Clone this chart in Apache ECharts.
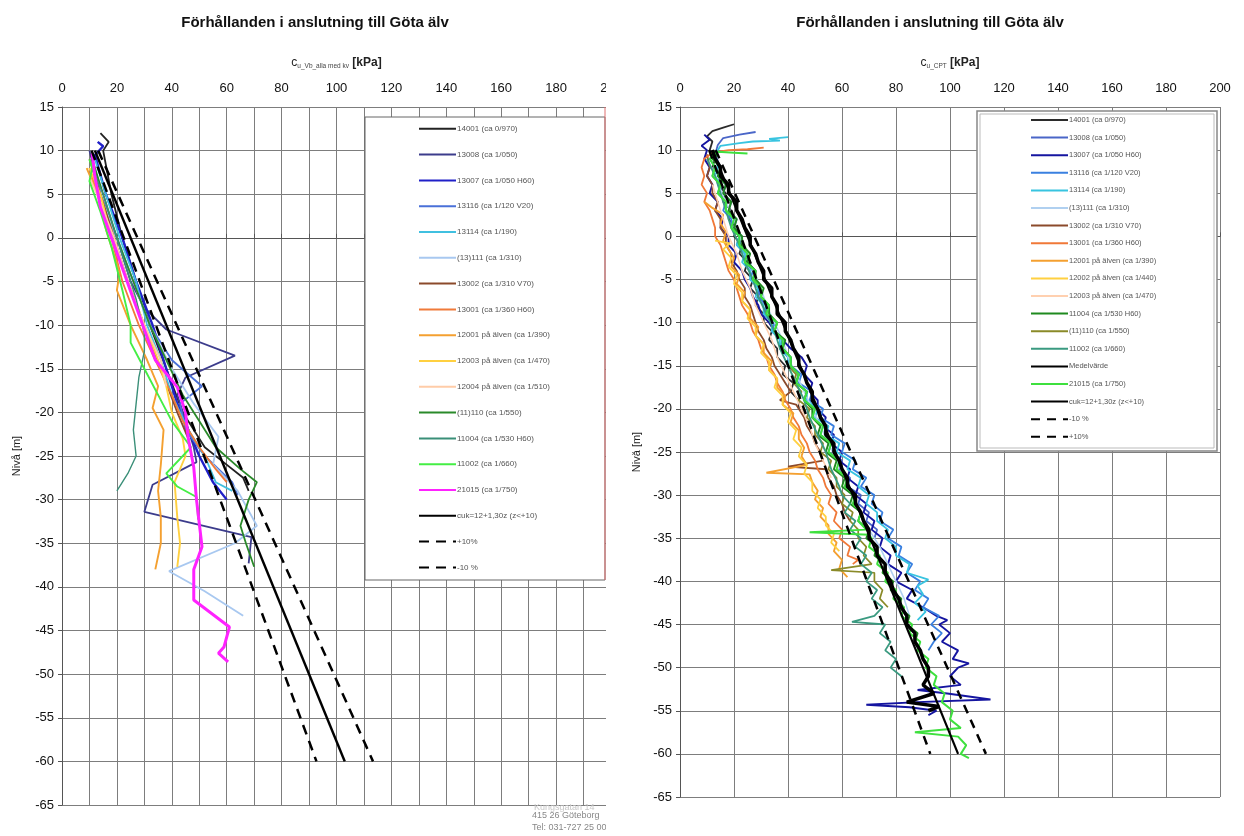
<!DOCTYPE html>
<html><head><meta charset="utf-8">
<script src="https://cdn.jsdelivr.net/npm/echarts@6/dist/echarts.min.js"></script>
<style>html,body{margin:0;padding:0;background:#fff}#c{width:1244px;height:836px}</style>
</head><body><div id="c"></div><script>
// ---------- texts ----------
const TITLE = 'Förhållanden i anslutning till Göta älv';
const Y_NAME = 'Nivå [m]';
const FOOTER = ['Kungsgatan 14', '415 26 Göteborg', 'Tel: 031-727 25 00'];

// ---------- axes ----------
const Y_MIN = -65, Y_MAX = 15, Y_STEP = 5;
const X_MIN = 0, X_MAX = 200, X_LABEL_STEP = 20;

// ---------- reference lines [cu, level] ----------
const REF_CUK = [[12, 10], [103, -60]];
const REF_PLUS10 = [[13.2, 10], [113.3, -60]];
const REF_MINUS10 = [[10.8, 10], [92.7, -60]];

// ---------- LEFT chart (vingborr) [cu, level] ----------
const L_14001 = [[14,12],[17,11],[15,10],[18,5],[22,0],[27,-5],[32,-10],[38,-15],[44,-20],[52,-24],[58,-25.5],[66,-27.5],[68,-29]];
const L_13008 = [[10,10],[14,5],[20,0],[25,-5],[30,-8],[38,-10.5],[63,-13.5],[45,-16],[42,-18],[45,-21],[48,-24],[49,-25.7],[33,-28.3],[30,-31.4],[69,-34.3],[68,-37.3]];
const L_13007 = [[13,11],[15,10.5],[12,9.5],[16,5],[22,0],[27,-5],[33,-10],[38,-15],[42,-19],[46,-22],[50,-25],[55,-28],[60,-30]];
const L_13116 = [[11,9],[14,5],[20,0],[26,-5],[32,-10],[40,-14],[51,-17],[43,-19],[45,-22],[52,-25],[62,-28],[64,-29.5]];
const L_13114 = [[12,9],[16,5],[21,0],[27,-5],[31,-10],[36,-14],[40,-18],[46,-22],[52,-25],[56,-28],[62,-29]];
const L_13111 = [[11,8],[15,4],[20,0],[26,-5],[32,-10],[40,-15],[48,-19],[57,-22.8],[55,-26],[64,-29],[71,-33],[63,-35],[39,-38.2],[52,-40.5],[66,-43.3]];
const L_13002 = [[10,9],[14,5],[19,0],[24,-5],[30,-10],[36,-15],[42,-20],[46,-23]];
const L_13001 = [[10,8],[13,5],[18,0],[22,-5],[28,-10],[34,-14],[40,-18],[44,-21],[50,-24],[56,-26.5],[60,-28]];
const L_12001 = [[9,8],[13,5],[16,1],[21,-4],[20,-6],[25,-10],[31,-14],[35,-17],[33,-19.5],[37,-22],[36,-26],[35,-29],[36,-32],[36,-35],[34,-38]];
const L_12003 = [[10,8],[14,5],[18,0],[24,-5],[30,-10],[35,-14],[38,-17],[40,-20],[44,-23],[45,-25],[41,-28],[42,-32],[43,-35],[42,-37.7]];
const L_12004 = [[10,7],[14,4],[19,0],[24,-5],[30,-10],[36,-14],[38,-17]];
const L_11110 = [[11,9],[15,5],[20,0],[26,-5],[32,-10],[38,-14],[44,-18],[50,-21],[56,-24],[65,-26.5],[71,-28],[68,-30],[65,-33],[67,-35],[70,-37.7]];
const L_11004 = [[11,8],[15,5],[19,1],[23,-3],[27,-7],[30,-11],[30,-13],[28,-16],[27,-19],[26,-22],[27,-25],[24,-27],[20,-29]];
const L_11002 = [[10,9],[11,8],[10,6.5],[14,3],[18,-1],[22,-6],[25,-10],[25,-12],[30,-15],[35,-18],[40,-21],[47,-24],[38,-27],[42,-28.5],[49,-29.7],[49.6,-32.3]];
const L_21015 = [[11,9.7],[12,7],[14,3.5],[20,-1.7],[26,-7],[31,-11.4],[34,-14],[42,-17.1],[45,-20],[46,-23],[48,-26.3],[49,-30],[51,-35.4],[48,-38],[48,-41.5],[61,-44.6],[59,-46.9],[57,-47.6],[60.5,-48.6]];

// ---------- RIGHT chart (CPT) [cu, level] ----------
const R_14001 = [[20,13],[16,12.6],[12,12.2],[10,11.6],[12,11],[11,10],[13,9],[12,8],[15,7],[14,6],[17,5],[16,4],[19,3],[18,2],[21,1],[20,0],[23,-1],[22,-2],[25,-3],[24,-4],[27,-5],[26,-6],[29,-7],[28,-8],[31,-9],[31,-10],[34,-11],[33,-12],[36,-13],[36,-14],[39,-15],[38,-16],[42,-17],[41,-18],[44,-19],[44,-20]];
const R_13008 = [[28,12.1],[22,11.8],[16,11.4],[14,10.6],[13,9.5],[15,8],[14,7],[17,6],[16,5],[19,4],[18,3],[21,2],[20,1],[23,0],[22,-1],[25,-2],[25,-3],[28,-4],[27,-5],[30,-6],[29,-7],[32,-8],[32,-9],[35,-10],[34,-11],[38,-12],[37,-13],[40,-14],[40,-15],[44,-16],[43,-17],[47,-18],[46,-19],[50,-20],[49,-21],[53,-22],[52,-23],[56,-24],[55,-25],[60,-26],[59,-27],[63,-28],[62,-29],[67,-30],[66,-31],[70,-32],[69,-33],[73,-34],[72,-35]];
const R_13007 = [[9,11.8],[11,11.2],[8,10.5],[10,10],[9,9],[11,8],[10,7],[12,6],[11,5],[14,4],[13,3],[16,2],[15,1],[18,0],[18,-1],[21,-2],[20,-3],[23,-4],[24,-5],[26,-6],[27,-7],[29,-8],[30,-9],[33,-10],[35,-11],[38,-12],[41,-13],[45,-14],[47,-15],[46,-16],[49,-17],[48,-18],[51,-19],[51,-20],[54,-21],[53,-22],[57,-23],[56,-24],[60,-25],[59,-26],[63,-27],[62,-28],[66,-29],[65,-30],[69,-31],[68,-32],[72,-33],[71,-34],[75,-35],[74,-36],[78,-37],[77,-38],[82,-39],[80,-40],[86,-41],[84,-42],[90,-43],[95,-44],[99,-44.5],[96,-45],[100,-46],[97,-47],[103,-48],[101,-49],[107,-49.5],[103,-50],[100,-51],[104,-52],[88,-52.6],[99,-53],[115,-53.7],[88,-54],[69,-54.3],[85,-54.6],[95,-55],[92,-55.5]];
const R_13116 = [[11,9],[13,8],[12,7],[15,6],[14,5],[17,4],[16,3],[19,2],[19,1],[22,0],[21,-1],[24,-2],[24,-3],[27,-4],[26,-5],[29,-6],[29,-7],[32,-8],[31,-9],[35,-10],[34,-11],[38,-12],[37,-13],[41,-14],[41,-15],[45,-16],[44,-17],[49,-18],[48,-19],[53,-20],[52,-21],[57,-22],[56,-23],[61,-24],[60,-25],[65,-26],[64,-27],[69,-28],[67,-29],[72,-30],[71,-31],[75,-32],[74,-33],[79,-34],[77,-35],[82,-36],[81,-37],[86,-38],[84,-39],[89,-40],[87,-41],[92,-42],[90,-43],[96,-44],[93,-45],[97,-46],[94,-47],[92,-48]];
const R_13114 = [[40,11.5],[33,11.3],[37,11.1],[27,11],[22,10.8],[15,10.5],[13,9.5],[14,8],[13,7],[15,6],[15,5],[17,4],[17,3],[20,2],[19,1],[22,0],[21,-1],[24,-2],[23,-3],[26,-4],[26,-5],[29,-6],[28,-7],[31,-8],[31,-9],[34,-10],[34,-11],[37,-12],[37,-13],[40,-14],[40,-15],[44,-16],[43,-17],[47,-18],[47,-19],[51,-20],[50,-21],[55,-22],[54,-23],[59,-24],[58,-25],[63,-26],[62,-27],[67,-28],[66,-29],[70,-30],[69,-31],[73,-32],[73,-33],[77,-34],[76,-35],[80,-36],[80,-37],[85,-38],[84,-39],[92,-39.8],[88,-40.5],[90,-41.5],[87,-42.5],[91,-43.5],[88,-44.5]];
const R_13111 = [[12,8],[14,6],[17,4],[20,2],[22,0],[25,-2],[27,-4],[30,-6],[32,-8],[35,-10],[38,-12],[40,-14],[43,-16],[46,-18],[49,-20],[52,-22],[55,-24],[58,-26],[61,-28],[64,-30],[67,-32],[70,-34],[74,-36],[77,-38],[80,-40],[83,-42],[85,-44]];
const R_13002 = [[10,9.5],[11,8],[10,7],[12,6],[12,5],[14,4],[13,3],[15,2],[15,1],[17,0],[17,-1],[19,-2],[19,-3],[21,-4],[22,-5],[24,-6],[24,-7],[26,-8],[27,-9],[28,-10],[29,-11],[31,-12],[32,-13],[34,-14],[35,-15],[37,-16],[39,-17],[41,-18],[37,-19],[43,-19.5],[44,-20],[46,-21],[47,-22],[49,-23],[50,-24],[52,-25],[53,-26],[40,-26.7],[54,-27],[55,-28],[57,-29],[58,-30],[60,-31],[61,-32],[63,-33]];
const R_13001 = [[31,10.3],[25,10.1],[18,10],[12,9.7],[9,9],[8,8],[9,7],[8,6],[10,5],[9,4],[11,3],[12,2],[13,1],[13,0],[15,-1],[16,-2],[17,-3],[18,-4],[20,-5],[21,-6],[22,-7],[23,-8],[25,-9],[26,-10],[27,-11],[29,-12],[30,-13],[32,-14],[33,-15],[35,-16],[36,-17],[38,-18],[39,-19],[41,-20],[42,-21],[44,-22],[45,-23],[47,-24],[48,-25],[50,-26],[51,-27],[53,-28],[54,-29],[56,-30],[55,-31],[58,-32],[57,-33],[60,-34],[59,-35],[63,-36],[62,-37],[66,-37.5],[64,-38]];
const R_12001 = [[9,4],[12,3.3],[16,2.5],[15,1.5],[17,0.5],[16,-0.5],[18,-1.5],[20,-2.5],[19,-3.5],[22,-4.5],[21,-5.5],[24,-6.5],[23,-7.5],[26,-8.5],[26,-9.5],[29,-10.5],[28,-11.5],[31,-12.5],[31,-13.5],[34,-14.5],[33,-15.5],[36,-16.5],[36,-17.5],[39,-18.5],[38,-19.5],[42,-20.5],[41,-21.5],[44,-22.5],[44,-23.5],[46,-24.5],[45,-25.5],[47,-26.5],[32,-27.4],[48,-27.6],[49,-28.5],[51,-29.5],[50,-30.5],[53,-31.5],[52,-32.5],[55,-33.5],[55,-34.5],[58,-35.5],[57,-36.5],[60,-37.5],[59,-38.5],[62,-39.5]];
const R_12002 = [[13,-0.5],[18.5,-0.8],[16,-1.5],[19,-2.5],[18,-3.5],[21,-4.5],[20,-5.5],[23,-6.5],[23,-7.5],[26,-8.5],[25,-9.5],[28,-10.5],[28,-11.5],[31,-12.5],[30,-13.5],[33,-14.5],[33,-15.5],[36,-16.5],[35,-17.5],[38,-18.5],[38,-19.5],[41,-20.5],[40,-21.5],[43,-22.5],[42,-23.5],[45,-24.5],[44,-25.5],[47,-26.5],[46,-27.5],[49,-28.5],[49,-29.5],[52,-30.5],[51,-31.5],[54,-32.5],[54,-33.5],[57,-34.5],[56,-35.5],[59,-36.5]];
const R_12003 = [[12,6],[14,4],[16,2],[18,0],[21,-2],[23,-4],[26,-6],[28,-8],[31,-10],[34,-12],[36,-14],[39,-16],[42,-18],[45,-20],[48,-22],[50,-24],[53,-26],[56,-28]];
const R_11004 = [[12,10],[14,9.5],[12,9],[15,8],[14,7],[17,6],[16,5],[19,4],[18,3],[21,2],[20,1],[23,0],[23,-1],[26,-2],[25,-3],[28,-4],[28,-5],[31,-6],[30,-7],[33,-8],[33,-9],[36,-10],[35,-11],[39,-12],[38,-13],[41,-14],[41,-15],[44,-16],[43,-17],[47,-18],[46,-19],[49,-20],[49,-21],[52,-22],[51,-23],[55,-24],[54,-25],[58,-26],[57,-27],[61,-28],[60,-29],[64,-30],[63,-31],[67,-32],[66,-33],[70,-34],[69,-35],[73,-36],[72,-37],[76,-38],[75,-39],[79,-40],[78,-41],[82,-42],[81,-43],[85,-44],[84,-45],[88,-46],[87,-47]];
const R_11110 = [[40,-15],[43,-16],[42,-17],[45,-18],[44,-19],[48,-20],[47,-21],[50,-22],[50,-23],[53,-24],[52,-25],[56,-26],[55,-27],[58,-28],[58,-29],[61,-30],[60,-31],[64,-32],[63,-33],[66,-34],[66,-35],[69,-36],[68,-37],[71,-38],[56,-38.7],[72,-39],[72,-40],[75,-41],[74,-42],[77,-43]];
const R_11002 = [[10,9],[13,7],[15,5],[17,3],[19,1],[22,-1],[24,-3],[27,-5],[29,-7],[32,-9],[35,-11],[37,-13],[40,-15],[43,-17],[46,-19],[48,-21],[51,-23],[54,-25],[56,-27],[59,-29],[60,-30],[63,-31],[61,-32],[65,-33],[63,-34],[67,-35],[65,-36],[69,-37],[67,-38],[71,-39],[69,-40],[73,-41],[71,-42],[75,-43],[72,-44],[63.7,-44.7],[76,-45],[74,-46],[78,-47],[76,-48],[80,-49],[78,-50],[82,-51]];
const R_MEDEL = [[12,10],[13,9],[15,8],[15,7],[18,6],[18,5],[21,4],[21,3],[23,2],[24,1],[26,0],[26,-1],[28,-2],[29,-3],[31,-4],[31,-5],[34,-6],[34,-7],[36,-8],[36,-9],[39,-10],[39,-11],[41,-12],[42,-13],[44,-14],[44,-15],[46,-16],[47,-17],[49,-18],[49,-19],[51,-20],[52,-21],[54,-22],[54,-23],[57,-24],[57,-25],[59,-26],[60,-27],[62,-28],[62,-29],[65,-30],[65,-31],[67,-32],[68,-33],[70,-34],[70,-35],[73,-36],[73,-37],[76,-38],[76,-39],[78,-40],[79,-41],[81,-42],[82,-43],[84,-44],[84,-45],[87,-46],[87,-47],[89,-48],[90,-49],[92,-50],[92,-51],[90,-52],[94,-53],[84,-54],[96,-54.5],[92,-55]];
const R_21015 = [[25,9.6],[20,9.7],[14,9.8],[11,9],[13,8],[12,7],[15,6],[14,5],[17,4],[17,3],[20,2],[19,1],[22,0],[22,-1],[25,-2],[24,-3],[28,-4],[27,-5],[30,-6],[30,-7],[33,-8],[32,-9],[36,-10],[35,-11],[38,-12],[38,-13],[41,-14],[41,-15],[44,-16],[43,-17],[47,-18],[46,-19],[50,-20],[49,-21],[53,-22],[52,-23],[56,-24],[55,-25],[59,-26],[58,-27],[62,-28],[61,-29],[65,-30],[64,-31],[67,-32],[66,-33],[69,-34],[48,-34.3],[70,-34.6],[71,-35],[70,-36],[74,-37],[73,-38],[77,-39],[76,-40],[80,-41],[79,-42],[83,-43],[82,-44],[86,-45],[85,-46],[89,-47],[88,-48],[92,-49],[91,-50],[95,-51],[94,-52],[98,-53],[97,-54],[101,-55],[100,-56],[104,-57],[87,-57.5],[103,-58],[106,-59],[104,-60],[107,-60.5]];

// ---------- legend names ----------
const LEFT_NAMES = ['14001 (ca 0/970)','13008 (ca 1/050)','13007 (ca 1/050 H60)','13116 (ca 1/120 V20)','13114 (ca 1/190)','(13)111 (ca 1/310)','13002 (ca 1/310 V70)','13001 (ca 1/360 H60)','12001 på älven (ca 1/390)','12003 på älven (ca 1/470)','12004 på älven (ca 1/510)','(11)110 (ca 1/550)','11004 (ca 1/530 H60)','11002 (ca 1/660)','21015 (ca 1/750)','cuk=12+1,30z (z<+10)','+10%','-10 %'];
const RIGHT_NAMES = ['14001 (ca 0/970)','13008 (ca 1/050)','13007 (ca 1/050 H60)','13116 (ca 1/120 V20)','13114 (ca 1/190)','(13)111 (ca 1/310)','13002 (ca 1/310 V70)','13001 (ca 1/360 H60)','12001 på älven (ca 1/390)','12002 på älven (ca 1/440)','12003 på älven (ca 1/470)','11004 (ca 1/530 H60)','(11)110 (ca 1/550)','11002 (ca 1/660)','Medelvärde','21015 (ca 1/750)','cuk=12+1,30z (z<+10)','-10 %','+10%'];

// ---------- build ----------
const LEFT_DATA = [L_14001,L_13008,L_13007,L_13116,L_13114,L_13111,L_13002,L_13001,L_12001,L_12003,L_12004,L_11110,L_11004,L_11002,L_21015,REF_CUK,REF_PLUS10,REF_MINUS10];
const LEFT_STYLE = [['#222',1.8],['#3c3c8c',1.8],['#2020c8',2.4],['#4a70d8',1.8],['#40c0e0',1.8],['#a8c8f0',1.8],['#8b4a2b',1.8],['#f07a3a',1.8],['#f4a030',1.9],['#ffd040',1.9],['#ffcca8',1.8],['#2a8a2a',1.8],['#3a8f78',1.4],['#44ee44',1.9],['#ff22ff',3],['#000',2.5,'solid'],['#000',2.5,'dash'],['#000',2.5,'dash']];
const RIGHT_DATA = [R_14001,R_13008,R_13007,R_13116,R_13114,R_13111,R_13002,R_13001,R_12001,R_12002,R_12003,R_11004,R_11110,R_11002,R_MEDEL,R_21015,REF_CUK,REF_MINUS10,REF_PLUS10];
const RIGHT_STYLE = [['#2b2b2b',1.8],['#4a66c8',1.8],['#1515a0',1.9],['#3a80e0',1.8],['#38c4e0',1.8],['#b0d0f0',1.6],['#8b4a2b',1.8],['#f07838',1.8],['#f4a030',1.9],['#ffd040',1.8],['#ffd0b0',1.6],['#1f8a1f',1.9],['#8a8a28',1.7],['#3a9a80',1.8],['#000',3.5,'medel'],['#3ee03e',2],['#000',2.2,'solid'],['#000',2.5,'dash'],['#000',2.5,'dash']];

const series = [];
LEFT_DATA.forEach((d, i) => {
  const [c, w, kind] = LEFT_STYLE[i];
  series.push({
    type: 'line', name: LEFT_NAMES[i], xAxisIndex: 0, yAxisIndex: 0, data: d,
    symbol: 'none', smooth: false, silent: true, z: kind ? 5 : 2,
    lineStyle: { color: c, width: w, type: kind === 'dash' ? [10, 7] : 'solid' },
    itemStyle: { color: c }
  });
});
RIGHT_DATA.forEach((d, i) => {
  const [c, w, kind] = RIGHT_STYLE[i];
  series.push({
    type: 'line', name: RIGHT_NAMES[i] + '\u200b', xAxisIndex: 1, yAxisIndex: 1, data: d,
    symbol: 'none', smooth: false, silent: true, z: kind ? 5 : 2,
    lineStyle: { color: c, width: w, type: kind === 'dash' ? [9, 7] : 'solid' },
    itemStyle: { color: c }
  });
});

const FONT = 'Liberation Sans, Arial, sans-serif';
function xAxis(gridIndex, labelEvery, interval, nameRich) {
  return {
    type: 'value', gridIndex, position: 'top', min: X_MIN, max: X_MAX, interval,
    name: nameRich, nameLocation: 'middle', nameGap: 37,
    nameTextStyle: { rich: {
      c: { fontSize: 12, fontFamily: FONT, color: '#222' },
      s: { fontSize: 6.5, fontFamily: FONT, color: '#444', padding: [8, 0, 0, 0] },
      k: { fontSize: 12, fontFamily: FONT, color: '#222', fontWeight: 'bold' } } },
    axisLine: { show: true, lineStyle: { color: '#555' } },
    axisTick: { show: true, length: 4, lineStyle: { color: '#555' } },
    axisLabel: { margin: 12, fontSize: 13, fontFamily: FONT, color: '#111',
      formatter: v => (v % labelEvery === 0 ? String(v) : '') },
    splitLine: { show: true, lineStyle: { color: '#7d7d7d', width: 1 } }
  };
}
function yAxis(gridIndex, gap) {
  return {
    type: 'value', gridIndex, min: Y_MIN, max: Y_MAX, interval: Y_STEP,
    name: Y_NAME, nameLocation: 'middle', nameGap: gap, nameRotate: 90,
    nameTextStyle: { fontSize: 11, fontFamily: FONT, color: '#222' },
    axisLine: { show: true, lineStyle: { color: '#555' } },
    axisTick: { show: true, length: 4, lineStyle: { color: '#555' } },
    axisLabel: { margin: 8, fontSize: 13, fontFamily: FONT, color: '#111' },
    splitLine: { show: true, lineStyle: { color: '#7d7d7d', width: 1 } }
  };
}
function legend(names, left, top, fs, gap, h) {
  return {
    data: names, orient: 'vertical', left, top, itemWidth: 37, itemHeight: h, itemGap: gap,
    selectedMode: false, z: 6, padding: 0,
    itemStyle: { opacity: 0 },
    textStyle: { fontSize: fs, fontFamily: FONT, color: '#555', padding: [0, 0, 0, -4] }
  };
}

const option = {
  backgroundColor: '#fff',
  animation: false,
  title: [
    { text: TITLE, left: 310, top: 10, textAlign: 'center', textStyle: { fontSize: 15, fontWeight: 'bold', fontFamily: FONT, color: '#111' } },
    { text: TITLE, left: 925, top: 10, textAlign: 'center', textStyle: { fontSize: 15, fontWeight: 'bold', fontFamily: FONT, color: '#111' } }
  ],
  grid: [
    { left: 62, top: 107, width: 549, height: 698, containLabel: false },
    { left: 680, top: 107, width: 540, height: 690, containLabel: false }
  ],
  xAxis: [
    xAxis(0, X_LABEL_STEP, 10, '{c|c}{s|u_Vb_alla med kv}{k| [kPa]}'),
    xAxis(1, X_LABEL_STEP, X_LABEL_STEP, '{c|c}{s|u_CPT}{k| [kPa]}')
  ],
  yAxis: [yAxis(0, 40), yAxis(1, 38)],
  legend: [
    legend(LEFT_NAMES, 418, 124, 8, 16.2, 12),
    legend(RIGHT_NAMES.map(n => n + '\u200b'), 1030, 116, 7.5, 9.6, 10)
  ],
  graphic: [
    { type: 'rect', z: 3, shape: { x: 365, y: 117, width: 240, height: 463 }, style: { fill: '#fff', stroke: '#666', lineWidth: 1 } },
    { type: 'rect', z: 3, shape: { x: 977, y: 111, width: 240, height: 340 }, style: { fill: '#fff', stroke: '#888', lineWidth: 1.5 } },
    { type: 'rect', z: 3, shape: { x: 980, y: 114, width: 234, height: 334 }, style: { fill: 'none', stroke: '#bbb', lineWidth: 1 } },
    { type: 'line', z: 3, shape: { x1: 605, y1: 107, x2: 605, y2: 580 }, style: { stroke: '#e07070', lineWidth: 1 } },
    { type: 'text', z: 99, x: 534, y: 803, style: { text: FOOTER[0], fontSize: 9, fontFamily: FONT, fill: '#c8c8c8' } },
    { type: 'text', z: 99, x: 532, y: 811, style: { text: FOOTER[1], fontSize: 9, fontFamily: FONT, fill: '#888' } },
    { type: 'text', z: 99, x: 532, y: 823, style: { text: FOOTER[2], fontSize: 9, fontFamily: FONT, fill: '#888' } },
    { type: 'rect', z: 100, shape: { x: 606, y: 70, width: 26, height: 766 }, style: { fill: '#fff' } }
  ],
  series
};
const chart = echarts.init(document.getElementById('c'), null, { renderer: 'canvas' });
chart.setOption(option);
</script></body></html>
